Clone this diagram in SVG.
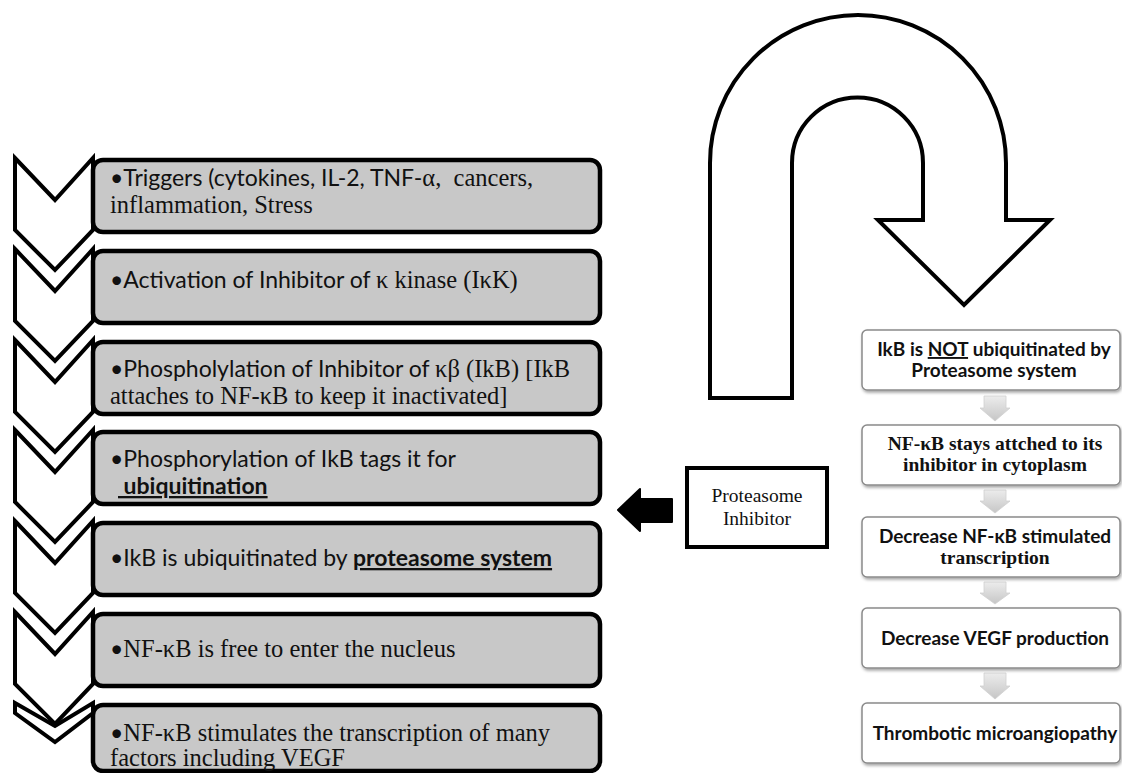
<svg xmlns="http://www.w3.org/2000/svg" width="1122" height="773" viewBox="0 0 1122 773">
<style>
.lbox{fill:#c8c8c8;stroke:#000;stroke-width:4.5}
.chev{fill:#fff;stroke:#000;stroke-width:4;stroke-linejoin:miter}
.sans{font-family:Lato,"Liberation Sans",sans-serif;font-size:23px;fill:#111}
.serif{font-family:"Liberation Serif",serif;font-size:24.5px;fill:#111}
.b{font-weight:bold}
.u{text-decoration:underline}
.rbox{fill:#fff;stroke:#8a8a8a;stroke-width:1.5;filter:url(#sh)}
.rs{font-family:Lato,"Liberation Sans",sans-serif;font-size:19px;font-weight:bold;fill:#111;text-anchor:middle}
.rf{font-family:"Liberation Serif",serif;font-size:19.5px;font-weight:bold;fill:#111;text-anchor:middle}
.garrow{fill:url(#gg);stroke:#d0d0d0;stroke-width:0.8}
</style>
<defs>
<filter id="sh" x="-5%" y="-10%" width="115%" height="130%">
<feDropShadow dx="1" dy="2" stdDeviation="1.5" flood-color="#000" flood-opacity="0.35"/>
</filter>
<linearGradient id="gg" x1="0" y1="0" x2="0" y2="1">
<stop offset="0" stop-color="#ececec"/>
<stop offset="1" stop-color="#c6c6c6"/>
</linearGradient>
<polygon id="chevshape" points="15,0 55,42 93,0 93,72 55,112 15,72"/>
</defs>
<rect width="1122" height="773" fill="#fff"/>

<g id="chevrons">
<use href="#chevshape" class="chev" x="0" y="158"/>
<use href="#chevshape" class="chev" x="0" y="249"/>
<use href="#chevshape" class="chev" x="0" y="340"/>
<use href="#chevshape" class="chev" x="0" y="430"/>
<use href="#chevshape" class="chev" x="0" y="521"/>
<use href="#chevshape" class="chev" x="0" y="612"/>
<polygon class="chev" points="15,703 55,726 93,703 93,713 55,742 15,713"/>
</g>

<g id="step1">
<rect class="lbox" x="93" y="160" width="507" height="72" rx="10"/>
<text x="110" y="186" xml:space="preserve"><tspan class="sans">•Triggers (cytokines, IL-2, TNF-</tspan><tspan class="serif">α,  cancers,</tspan></text>
<text class="serif" x="110" y="213">inflammation, Stress</text>
</g>
<g id="step2">
<rect class="lbox" x="93" y="251" width="507" height="72" rx="10"/>
<text x="110" y="288"><tspan class="sans">•Activation of Inhibitor of </tspan><tspan class="serif">κ kinase (IκK)</tspan></text>
</g>
<g id="step3">
<rect class="lbox" x="93" y="342" width="507" height="72" rx="10"/>
<text x="110" y="377"><tspan class="sans">•Phospholylation of Inhibitor of </tspan><tspan class="serif">κβ (IkB) [IkB</tspan></text>
<text class="serif" x="110" y="404">attaches to NF-κB to keep it inactivated]</text>
</g>
<g id="step4">
<rect class="lbox" x="93" y="432" width="507" height="72" rx="10"/>
<text class="sans" x="110" y="467">•Phosphorylation of IkB tags it for</text>
<text class="sans b u" x="118" y="494" xml:space="preserve"> ubiquitination</text>
</g>
<g id="step5">
<rect class="lbox" x="93" y="523" width="507" height="72" rx="10"/>
<text class="sans" x="110" y="566">•IkB is ubiquitinated by <tspan class="b u">proteasome system</tspan></text>
</g>
<g id="step6">
<rect class="lbox" x="93" y="614" width="507" height="72" rx="10"/>
<text x="110" y="657"><tspan class="sans">•</tspan><tspan class="serif">NF-κB is free to enter the nucleus</tspan></text>
</g>
<g id="step7">
<rect class="lbox" x="93" y="705" width="507" height="66" rx="10"/>
<text x="110" y="741"><tspan class="sans">•</tspan><tspan class="serif">NF-κB stimulates the transcription of many</tspan></text>
<text class="serif" x="110" y="766">factors including VEGF</text>
</g>

<g id="uturn">
<path d="M710,398 L710,163 A148,148 0 0 1 1006,163 L1006,220 L1050,220 L964,305 L878,220 L923,220 L923,163 A65.5,65.5 0 0 0 792,163 L792,398 Z" fill="#fff" stroke="#000" stroke-width="4" stroke-linejoin="miter"/>
</g>

<g id="inhibitor">
<rect x="687" y="468" width="140" height="79" fill="#fff" stroke="#000" stroke-width="4"/>
<text font-family="Liberation Serif, serif" font-size="19.5px" fill="#111" text-anchor="middle"><tspan x="757" y="502">Proteasome</tspan><tspan x="757" y="525">Inhibitor</tspan></text>
</g>

<g id="connectors">
<polygon points="618,510 640,489 640,499 672,499 672,522 640,522 640,531" fill="#000" stroke="#000" stroke-width="2" stroke-linejoin="round"/>
<polygon class="garrow" points="984,396 1006,396 1006,408 1010,408 995,421 980,408 984,408"/>
<polygon class="garrow" points="984,490 1006,490 1006,501 1010,501 995,513 980,501 984,501"/>
<polygon class="garrow" points="984,582 1006,582 1006,593 1010,593 995,604 980,593 984,593"/>
<polygon class="garrow" points="984,673 1006,673 1006,686 1010,686 995,699 980,686 984,686"/>
</g>

<g id="r1">
<rect class="rbox" x="862" y="330" width="258" height="60" rx="5"/>
<text class="rs" x="994" y="356">IkB is <tspan class="u">NOT</tspan> ubiquitinated by</text>
<text class="rs" x="994" y="377">Proteasome system</text>
</g>
<g id="r2">
<rect class="rbox" x="862" y="425" width="258" height="60" rx="5"/>
<text class="rf" x="995" y="450">NF-κB stays attched to its</text>
<text class="rf" x="995" y="471">inhibitor in cytoplasm</text>
</g>
<g id="r3">
<rect class="rbox" x="862" y="517" width="258" height="60" rx="5"/>
<text class="rs" x="995" y="543">Decrease NF-κB stimulated</text>
<text class="rf" x="995" y="564">transcription</text>
</g>
<g id="r4">
<rect class="rbox" x="862" y="608" width="258" height="60" rx="5"/>
<text class="rs" x="995" y="645">Decrease VEGF production</text>
</g>
<g id="r5">
<rect class="rbox" x="862" y="703" width="258" height="60" rx="5"/>
<text class="rs" x="995" y="740">Thrombotic microangiopathy</text>
</g>
</svg>
